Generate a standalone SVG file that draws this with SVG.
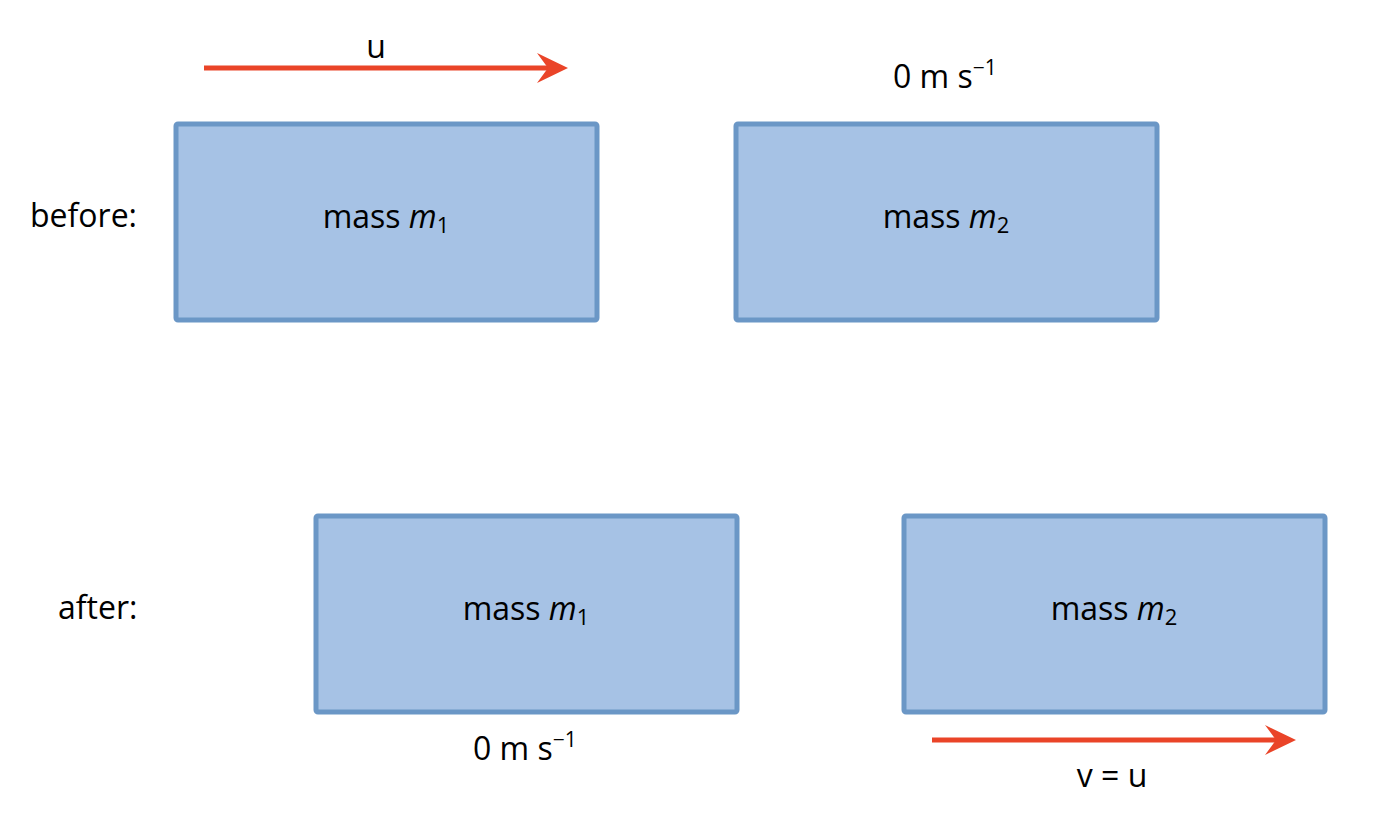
<svg xmlns="http://www.w3.org/2000/svg" width="1374" height="832" viewBox="0 0 1374 832">
<style>
.box{fill:#a6c2e5;stroke:#6b97c6;stroke-width:5}
text{font-family:"Open Sans","Noto Sans",sans-serif;font-size:32px;fill:#000}
.c{text-anchor:middle}
.arr{stroke:#ea4428;stroke-width:5;fill:none}
.head{fill:#ea4428}
</style>
<rect width="1374" height="832" fill="#fff"/>
<text x="30" y="227">before:</text>
<text x="58" y="619">after:</text>
<g id="m1-before">
<rect class="box" x="176" y="124" width="421" height="196" rx="2"/>
<text class="c" x="386" y="228">mass <tspan font-style="italic">m</tspan><tspan font-size="22" dy="5">1</tspan></text>
</g>
<g id="m2-before">
<rect class="box" x="736" y="124" width="421" height="196" rx="2"/>
<text class="c" x="946" y="228">mass <tspan font-style="italic">m</tspan><tspan font-size="22" dy="5">2</tspan></text>
</g>
<g id="m1-after">
<rect class="box" x="316" y="516" width="421" height="196" rx="2"/>
<text class="c" x="526" y="620">mass <tspan font-style="italic">m</tspan><tspan font-size="22" dy="5">1</tspan></text>
</g>
<g id="m2-after">
<rect class="box" x="904" y="516" width="421" height="196" rx="2"/>
<text class="c" x="1114" y="620">mass <tspan font-style="italic">m</tspan><tspan font-size="22" dy="5">2</tspan></text>
</g>
<g id="connectors">
<line class="arr" x1="204" y1="68" x2="550" y2="68"/>
<polygon class="head" points="568,68 537,53 548,68 537,83"/>
<line class="arr" x1="932" y1="740" x2="1278" y2="740"/>
<polygon class="head" points="1296,740 1265,725 1276,740 1265,755"/>
</g>
<text class="c" x="376" y="58">u</text>
<text x="893" y="88">0 m s<tspan font-size="21" dy="-13">−1</tspan></text>
<text x="473" y="760">0 m s<tspan font-size="21" dy="-13">−1</tspan></text>
<text class="c" x="1112" y="787">v = u</text>
</svg>
